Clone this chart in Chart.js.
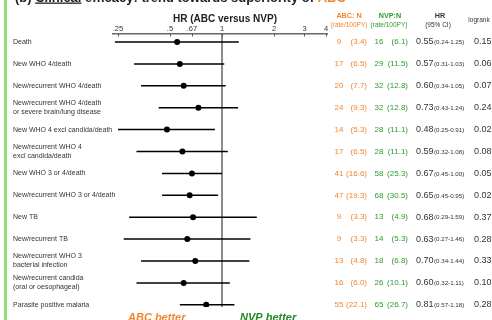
<!DOCTYPE html>
<html><head><meta charset="utf-8">
<script src="https://cdn.jsdelivr.net/npm/chart.js@4"></script>
<style>html,body{margin:0;padding:0;background:#fff;overflow:hidden}#wrap{position:relative;width:492px;height:320px}</style>
</head><body><div id="wrap"><canvas id="c" width="492" height="320"></canvas></div>
<script>
const rows = ["Death", "New WHO 4/death", "New/recurrent WHO 4/death",
  ["New/recurrent WHO 4/death", "or severe brain/lung disease"],
  "New WHO 4 excl candida/death", ["New/recurrent WHO 4", "excl candida/death"],
  "New WHO 3 or 4/death", "New/recurrent WHO 3 or 4/death", "New TB", "New/recurrent TB",
  ["New/recurrent WHO 3", "bacterial infection"], ["New/recurrent candida", "(oral or oesophageal)"],
  "Parasite positive malaria"];
const abcN = [9, 17, 20, 24, 14, 17, 41, 47, 9, 9, 13, 16, 55];
const abcRate = ["3.4", "6.5", "7.7", "9.3", "5.3", "6.5", "16.6", "19.3", "3.3", "3.3", "4.8", "6.0", "22.1"];
const nvpN = [16, 29, 32, 32, 28, 28, 58, 68, 13, 14, 18, 26, 65];
const nvpRate = ["6.1", "11.5", "12.8", "12.8", "11.1", "11.1", "25.3", "30.5", "4.9", "5.3", "6.8", "10.1", "26.7"];
const hr = [0.55, 0.57, 0.60, 0.73, 0.48, 0.59, 0.67, 0.65, 0.68, 0.63, 0.70, 0.60, 0.81];
const ciLo = [0.24, 0.31, 0.34, 0.43, 0.25, 0.32, 0.45, 0.45, 0.29, 0.27, 0.34, 0.32, 0.57];
const ciHi = [1.25, 1.03, 1.05, 1.24, 0.91, 1.08, 1.00, 0.95, 1.59, 1.46, 1.44, 1.11, 1.18];
const logrank = ["0.15", "0.06", "0.07", "0.24", "0.02", "0.08", "0.05", "0.02", "0.37", "0.28", "0.33", "0.10", "0.28"];
const tickVals = [0.25, 0.5, 0.67, 1, 2, 3, 4];
const tickLabels = [".25", ".5", ".67", "1", "2", "3", "4"];

const ORANGE = '#f5852b', GREEN = '#2e9b2e', DARKGREEN = '#1f8a1f', DARK = '#333', FAM = '"Liberation Sans", Arial, sans-serif';
const f = (s, w, st) => (st || '') + ' ' + (w || '') + ' ' + s + 'px ' + FAM;

const overlay = {
  id: 'overlay',
  beforeDatasetsDraw(chart) {
    const { ctx, chartArea: a, scales: { x, y } } = chart;
    ctx.save();
    const x1 = x.getPixelForValue(1);
    ctx.strokeStyle = '#666'; ctx.lineWidth = 1.5;
    ctx.beginPath(); ctx.moveTo(x1, a.top); ctx.lineTo(x1, a.bottom); ctx.stroke();
    ctx.strokeStyle = '#555'; ctx.lineWidth = 1;
    tickVals.forEach(v => { const px = Math.round(x.getPixelForValue(v)) + 0.5; ctx.beginPath(); ctx.moveTo(px, a.top); ctx.lineTo(px, a.top + 2.5); ctx.stroke(); });
    ctx.strokeStyle = '#000'; ctx.lineWidth = 1.5;
    rows.forEach((r, i) => {
      const py = y.getPixelForValue(i);
      ctx.beginPath(); ctx.moveTo(x.getPixelForValue(ciLo[i]), py); ctx.lineTo(x.getPixelForValue(ciHi[i]), py); ctx.stroke();
    });
    ctx.restore();
  },
  afterDraw(chart) {
    const { ctx, scales: { x, y } } = chart;
    ctx.save();
    ctx.fillStyle = '#8fdf72'; ctx.fillRect(4, 0, 3, 320);
    ctx.textBaseline = 'alphabetic'; ctx.textAlign = 'left';
    ctx.font = f(13, 'bold'); ctx.fillStyle = '#222';
    let tx = 15; const ty = 1.5;
    const seg = (t, col, ul) => { ctx.fillStyle = col; ctx.fillText(t, tx, ty); const w = ctx.measureText(t).width; if (ul) { ctx.fillRect(tx, ty + 1, w, 1.3); } tx += w; };
    seg('(b) ', '#222'); seg('Clinical', '#222', true); seg(' efficacy: trend towards superiority of ', '#222'); seg('ABC', ORANGE);
    ctx.textAlign = 'center'; ctx.textBaseline = 'middle';
    ctx.font = f(10, 'bold'); ctx.fillStyle = '#222';
    ctx.fillText('HR (ABC versus NVP)', 225, 19);
    ctx.font = f(7.2, 'bold'); ctx.fillStyle = ORANGE; ctx.fillText('ABC: N', 349, 16);
    ctx.fillStyle = GREEN; ctx.fillText('NVP:N', 390, 16);
    ctx.fillStyle = DARK; ctx.fillText('HR', 440, 16);
    ctx.font = f(6.5); ctx.fillStyle = ORANGE; ctx.fillText('(rate/100PY)', 349, 25);
    ctx.fillStyle = GREEN; ctx.fillText('(rate/100PY)', 389, 25);
    ctx.fillStyle = DARK; ctx.fillText('(95% CI)', 438, 25);
    ctx.fillText('logrank', 479, 20);
    rows.forEach((r, i) => {
      const py = y.getPixelForValue(i);
      ctx.font = f(7); ctx.fillStyle = DARK; ctx.textAlign = 'left';
      if (Array.isArray(r)) { ctx.fillText(r[0], 13, py - 4.5); ctx.fillText(r[1], 13, py + 4.5); }
      else ctx.fillText(r, 13, py);
      ctx.font = f(8);
      ctx.fillStyle = ORANGE; ctx.textAlign = 'center'; ctx.fillText(String(abcN[i]), 339, py);
      ctx.textAlign = 'right'; ctx.fillText('(' + abcRate[i] + ')', 367, py);
      ctx.fillStyle = GREEN; ctx.textAlign = 'center'; ctx.fillText(String(nvpN[i]), 379, py);
      ctx.textAlign = 'right'; ctx.fillText('(' + nvpRate[i] + ')', 408, py);
      ctx.fillStyle = DARK; ctx.textAlign = 'left';
      ctx.font = f(9); const hs = hr[i].toFixed(2); ctx.fillText(hs, 416, py);
      const hw = ctx.measureText(hs).width;
      ctx.font = f(6.2); ctx.fillText('(' + ciLo[i].toFixed(2) + '-' + ciHi[i].toFixed(2) + ')', 416 + hw + 0.5, py + 0.5);
      ctx.font = f(9); ctx.fillText(logrank[i], 474, py);
    });
    ctx.textAlign = 'left'; ctx.textBaseline = 'alphabetic';
    ctx.font = f(11, 'bold', 'italic');
    ctx.fillStyle = ORANGE; ctx.fillText('ABC better', 128, 321);
    ctx.fillStyle = DARKGREEN; ctx.fillText('NVP better', 240, 321);
    ctx.restore();
  }
};

new Chart(document.getElementById('c'), {
  type: 'scatter',
  data: { datasets: [{ data: hr.map((v, i) => ({ x: v, y: i })), pointRadius: 3, pointHoverRadius: 3, backgroundColor: '#000', borderColor: '#000', borderWidth: 0 }] },
  options: {
    responsive: false, animation: false, devicePixelRatio: 1,
    layout: { padding: { left: 113, right: 165, top: 18, bottom: 13 } },
    plugins: { legend: { display: false }, tooltip: { enabled: false } },
    scales: {
      x: {
        type: 'logarithmic', position: 'top', min: 0.234, max: 4.05,
        afterBuildTicks: s => { s.ticks = tickVals.map(v => ({ value: v })); },
        afterFit: s => { s.height = 16; },
        ticks: { autoSkip: false, maxRotation: 0, padding: 1, color: '#333', font: { size: 7.5, family: FAM }, callback: (v, i) => tickLabels[i] },
        grid: { drawOnChartArea: false, drawTicks: false },
        border: { display: true, color: '#666', width: 1.5 }
      },
      y: { type: 'linear', display: false, reverse: true, min: -0.365, max: 12.1 }
    }
  },
  plugins: [overlay]
});
</script></body></html>
